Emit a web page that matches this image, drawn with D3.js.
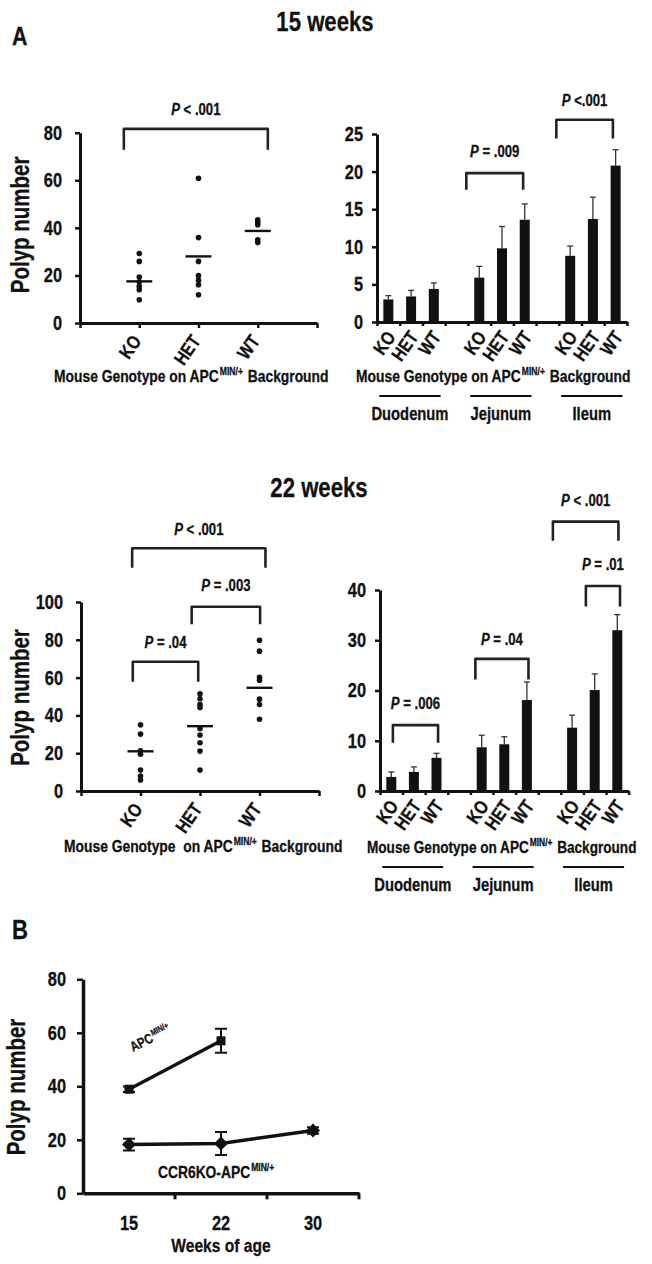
<!DOCTYPE html>
<html><head><meta charset="utf-8">
<script src="https://cdn.jsdelivr.net/npm/d3@7"></script>
<style>body{margin:0;background:#fff}svg{display:block}</style>
</head><body>
<svg id="c" width="652" height="1264"></svg>
<script>
// ---------------- DATA ----------------
const genotypes = ["KO", "HET", "WT"];
const segments = ["Duodenum", "Jejunum", "Ileum"];

// Panel A, 15 weeks — individual mice (polyp number)
const s15KO  = [29.2, 25.9, 19.3, 17.3, 15.4, 14.0, 9.8];
const s15HET = [60.8, 35.9, 25.9, 19.9, 17.9, 16.1, 11.9];
const s15WT  = [43.4, 42.2, 41.3, 35.0, 33.8];
const s15Mean = [17.5, 28.0, 38.7];

// Panel A, 22 weeks — individual mice
const s22KO  = [35.0, 30.1, 21.3, 19.5, 11.1, 7.9, 5.8];
const s22HET = [51.4, 48.8, 45.8, 44.2, 33.1, 29.6, 25.5, 21.1, 11.1];
const s22WT  = [79.8, 74.0, 60.1, 58.6, 48.6, 45.8, 38.0];
const s22Mean = [21.0, 34.3, 54.6];

// Bars by segment (rows: Duodenum, Jejunum, Ileum; cols: KO, HET, WT)
const bar15Mean = [[3.0, 3.4, 4.4], [5.9, 9.8, 13.6], [8.8, 13.7, 20.8]];
const bar15Sem  = [[0.5, 0.8, 0.8], [1.5, 2.9, 2.1], [1.3, 2.9, 2.1]];
const bar22Mean = [[2.8, 3.8, 6.6], [8.7, 9.3, 18.1], [12.6, 20.1, 32.0]];
const bar22Sem  = [[1.0, 1.0, 0.9], [2.4, 1.5, 3.6], [2.5, 3.2, 3.1]];

// Panel B — time course
const weeks = [15, 22, 30];
const apcMean = [38.9, 57.0];
const apcSem  = [1.0, 4.5];
const ccrMean = [18.2, 18.6, 23.5];
const ccrSem  = [2.2, 4.3, 1.2];

// Axis ticks
const ticks15Scatter = [0, 20, 40, 60, 80];
const ticks15Bars = [0, 5, 10, 15, 20, 25];
const ticks22Scatter = [0, 20, 40, 60, 80, 100];
const ticks22Bars = [0, 10, 20, 30, 40];
const ticksB = [0, 20, 40, 60, 80];

// Significance brackets (category units, value units)
const br15Scatter = [{a: 0.74, b: 3.17, top: 81.6, leg: 72.8, txt: 87.6, op: "< ", p: ".001"}];
const br15Bars = [
  {a: 3.43, b: 5.93, top: 19.8, leg: 17.6, txt: 22.0, op: "= ", p: ".009"},
  {a: 7.39, b: 9.88, top: 26.9, leg: 24.4, txt: 28.7, op: "<", p: ".001"}
];
const br22Scatter = [
  {a: 0.86, b: 3.10, top: 128.4, leg: 118.1, txt: 135.4, op: "< ", p: ".001"},
  {a: 1.86, b: 3.01, top: 97.5, leg: 88.2, txt: 106.0, op: "= ", p: ".003"},
  {a: 0.87, b: 1.97, top: 68.4, leg: 57.8, txt: 75.5, op: "= ", p: ".04"}
];
const br22Bars = [
  {a: 0.07, b: 2.07, top: 13.1, leg: 9.6, txt: 16.3, op: "= ", p: ".006"},
  {a: 3.72, b: 6.07, top: 26.3, leg: 22.2, txt: 29.1, op: "= ", p: ".04"},
  {a: 7.15, b: 10.05, top: 53.6, leg: 49.8, txt: 56.7, op: "< ", p: ".001"},
  {a: 8.61, b: 10.12, top: 40.8, leg: 36.7, txt: 44.0, op: "= ", p: ".01"}
];

// ---------------- FONT ----------------
const NARROW = (function () {
  const c = document.createElement("canvas").getContext("2d");
  c.font = "bold 40px monospace";
  const w0 = c.measureText("Mouse Genotype").width;
  c.font = "bold 40px 'Liberation Sans Narrow', monospace";
  const w1 = c.measureText("Mouse Genotype").width;
  return Math.abs(w0 - w1) > 0.5;
})();
const FONT = NARROW ? "'Liberation Sans Narrow', 'Arial Narrow', sans-serif" : "'Liberation Sans', Arial, sans-serif";
function squeeze(t) {
  if (NARROW) return;
  const n = t.node();
  const w = n.getComputedTextLength();
  n.setAttribute("textLength", (w * 0.82).toFixed(2));
  n.setAttribute("lengthAdjust", "spacingAndGlyphs");
}

const svg = d3.select("#c");
const INK = "#111";

function rich(parent, x, y, parts, size, anchor, rot) {
  const t = parent.append("text")
    .attr("transform", `translate(${x},${y})` + (rot ? ` rotate(${rot})` : ""))
    .attr("font-family", FONT).attr("font-weight", "bold")
    .attr("font-size", size).attr("text-anchor", anchor || "start").attr("fill", INK)
    .attr("stroke", INK).attr("stroke-width", 0.3)
    .style("white-space", "pre");
  let shifted = false;
  parts.forEach(p => {
    if (typeof p === "string") p = {t: p};
    const ts = t.append("tspan").text(p.t);
    if (p.it) ts.attr("font-style", "italic");
    if (p.sup) { ts.attr("font-size", size * 0.62).attr("dy", -size * 0.4).attr("dx", 1.2); shifted = true; }
    else if (shifted) { ts.attr("dy", size * 0.4).attr("dx", 1.2); shifted = false; }
  });
  squeeze(t);
  return t;
}

function styleAxis(g, fs, lw) {
  g.select(".domain").attr("stroke", INK).attr("stroke-width", lw || 3);
  g.selectAll(".tick line").attr("stroke", INK).attr("stroke-width", 2.5);
  g.selectAll(".tick text").attr("font-family", FONT).attr("font-weight", "bold")
    .attr("font-size", fs).attr("fill", INK).attr("stroke", INK).attr("stroke-width", 0.3)
    .each(function () { squeeze(d3.select(this)); });
}

function drawBracket(g, x, y, b, fs) {
  const x1 = x(b.a), x2 = x(b.b);
  g.append("path")
    .attr("d", `M${x1},${y(b.leg)}V${y(b.top)}H${x2}V${y(b.leg)}`)
    .attr("fill", "none").attr("stroke", "#222").attr("stroke-width", 2.6)
    .attr("stroke-linejoin", "round");
  rich(g, (x1 + x2) / 2, y(b.txt), [{t: "P", it: true}, " " + b.op + b.p], fs, "middle");
}

function genotypeText(g, x, y, twoSpace, fs) {
  rich(g, x, y, ["Mouse Genotype " + (twoSpace ? " " : "") + "on APC", {t: "MIN/+", sup: true}, " Background"], fs || 17, "start");
}

// ---------------- SCATTER PANEL ----------------
function scatterPanel(o) {
  const g = svg.append("g");
  const x = d3.scaleLinear().domain([0, 4]).range([o.x0, o.x1]);
  const y = d3.scaleLinear().domain([0, o.max]).range([o.base, o.top]);
  const ya = g.append("g").attr("transform", `translate(${o.x0},0)`)
    .call(d3.axisLeft(y).tickValues(o.ticks).tickSize(5).tickSizeOuter(0).tickPadding(13));
  styleAxis(ya, 20);
  const xa = g.append("g").attr("transform", `translate(0,${o.base})`)
    .call(d3.axisBottom(x).tickValues([0, 1, 2, 3, 4]).tickSize(5).tickSizeOuter(0).tickFormat(""));
  styleAxis(xa, 19);
  genotypes.forEach((c, i) => {
    rich(g, x(i + 1) + 3, o.base + 18, [c], 19, "end", -55);
  });
  o.series.forEach((vals, i) => {
    g.selectAll(null).data(vals).enter().append("circle")
      .attr("cx", x(i + 1)).attr("cy", d => y(d)).attr("r", 2.8).attr("fill", INK);
    g.append("line").attr("x1", x(i + 1) - 13).attr("x2", x(i + 1) + 13)
      .attr("y1", y(o.means[i])).attr("y2", y(o.means[i])).attr("stroke", INK).attr("stroke-width", 2.4);
  });
  o.brackets.forEach(b => drawBracket(g, x, y, b, 16));
  rich(g, 29, (o.base + o.top) / 2 + o.titleShift, ["Polyp number"], 25, "middle", -90);
  genotypeText(g, o.gx, o.gy, o.twoSpace);
}

// ---------------- BAR PANEL ----------------
function barPanel(o) {
  const g = svg.append("g");
  const x = d3.scaleLinear().domain([0, 11]).range([o.x0, o.x1]);
  const xc = u => x(u + 0.5);
  const y = d3.scaleLinear().domain([0, o.max]).range([o.base, o.top]);
  const flat = [];
  o.mean.forEach((row, gi) => row.forEach((m, k) => flat.push({slot: gi * 4 + k, m, s: o.sem[gi][k], k})));
  // error bars (upper only)
  flat.forEach(d => {
    const cx = xc(d.slot);
    g.append("line").attr("x1", cx).attr("x2", cx).attr("y1", y(d.m)).attr("y2", y(d.m + d.s))
      .attr("stroke", "#333").attr("stroke-width", 1.3);
    g.append("line").attr("x1", cx - 3).attr("x2", cx + 3).attr("y1", y(d.m + d.s)).attr("y2", y(d.m + d.s))
      .attr("stroke", "#333").attr("stroke-width", 1.3);
  });
  g.selectAll(null).data(flat).enter().append("rect")
    .attr("x", d => xc(d.slot) - 5).attr("width", 10)
    .attr("y", d => y(d.m)).attr("height", d => o.base - y(d.m)).attr("fill", INK);
  const ya = g.append("g").attr("transform", `translate(${o.x0},0)`)
    .call(d3.axisLeft(y).tickValues(o.ticks).tickSize(5).tickSizeOuter(0).tickPadding(9));
  styleAxis(ya, 20);
  const xa = g.append("g").attr("transform", `translate(0,${o.base})`)
    .call(d3.axisBottom(x).tickValues(d3.range(0, 12)).tickSize(4).tickSizeOuter(0).tickFormat(""));
  styleAxis(xa, 19);
  flat.forEach(d => rich(g, xc(d.slot) + 8, o.base + 15, [genotypes[d.k]], 19, "end", -55));
  o.brackets.forEach(b => drawBracket(g, xc, y, b, 16));
  genotypeText(g, o.gx, o.gy, false, o.gfs);
  segments.forEach((s, gi) => {
    const a = x(gi * 4 + 0.1), b = x(gi * 4 + 2.8);
    g.append("line").attr("x1", a).attr("x2", b).attr("y1", o.gy + 14).attr("y2", o.gy + 14)
      .attr("stroke", INK).attr("stroke-width", 2.2);
    rich(g, (a + b) / 2, o.gy + 38, [s], 18, "middle");
  });
}

// ---------------- HEADINGS ----------------
rich(svg, 12, 45, ["A"], 26, "start");
rich(svg, 325, 31, ["15 weeks"], 27, "middle");
rich(svg, 319, 497, ["22 weeks"], 27, "middle");
rich(svg, 12, 939, ["B"], 27, "start");

scatterPanel({x0: 80, x1: 317, base: 323, top: 132.7, max: 80, ticks: ticks15Scatter,
  series: [s15KO, s15HET, s15WT], means: s15Mean, brackets: br15Scatter,
  titleShift: -3, gx: 54, gy: 382, twoSpace: false});
barPanel({x0: 377, x1: 627, base: 322, top: 134, max: 25, ticks: ticks15Bars,
  mean: bar15Mean, sem: bar15Sem, brackets: br15Bars, gx: 356, gy: 382, gfs: 17});
scatterPanel({x0: 81, x1: 319, base: 791, top: 602, max: 100, ticks: ticks22Scatter,
  series: [s22KO, s22HET, s22WT], means: s22Mean, brackets: br22Scatter,
  titleShift: 1, gx: 64, gy: 852, twoSpace: true});
barPanel({x0: 380, x1: 628.6, base: 791, top: 590, max: 40, ticks: ticks22Bars,
  mean: bar22Mean, sem: bar22Sem, brackets: br22Bars, gx: 367, gy: 853, gfs: 16.7});

// ---------------- PANEL B ----------------
(function () {
  const g = svg.append("g");
  const x0 = 83, x1 = 359, base = 1193.3, top = 979.3;
  const x = d3.scaleBand().domain(weeks).range([x0, x1]);
  const xc = w => x(w) + x.bandwidth() / 2;
  const y = d3.scaleLinear().domain([0, 80]).range([base, top]);
  const ya = g.append("g").attr("transform", `translate(${x0},0)`)
    .call(d3.axisLeft(y).tickValues(ticksB).tickSize(6).tickSizeOuter(0).tickPadding(11));
  styleAxis(ya, 20, 3.5);
  const xa = g.append("g").attr("transform", `translate(0,${base})`)
    .call(d3.axisBottom(x).tickSize(0).tickSizeOuter(0).tickPadding(23));
  styleAxis(xa, 20, 3.5);
  weeks.forEach(w => g.append("line").attr("x1", x(w) + x.bandwidth()).attr("x2", x(w) + x.bandwidth())
    .attr("y1", base).attr("y2", base + 6).attr("stroke", INK).attr("stroke-width", 3));
  const apc = apcMean.map((m, i) => ({w: weeks[i], m, s: apcSem[i]}));
  const ccr = ccrMean.map((m, i) => ({w: weeks[i], m, s: ccrSem[i]}));
  const line = d3.line().x(d => xc(d.w)).y(d => y(d.m));
  [apc, ccr].forEach(series => {
    series.forEach(d => {
      const cx = xc(d.w);
      g.append("path").attr("d", `M${cx - 6},${y(d.m + d.s)}H${cx + 6}M${cx},${y(d.m + d.s)}V${y(d.m - d.s)}M${cx - 6},${y(d.m - d.s)}H${cx + 6}`)
        .attr("stroke", INK).attr("stroke-width", 2).attr("fill", "none");
    });
    g.append("path").datum(series).attr("d", line).attr("fill", "none")
      .attr("stroke", INK).attr("stroke-width", 3.5);
  });
  g.selectAll(null).data(apc).enter().append("rect")
    .attr("x", d => xc(d.w) - 4.5).attr("y", d => y(d.m) - 4.5).attr("width", 9).attr("height", 9).attr("fill", INK);
  g.selectAll(null).data(ccr).enter().append("path")
    .attr("d", d => { const cx = xc(d.w), cy = y(d.m); return `M${cx},${cy - 7}L${cx + 7},${cy}L${cx},${cy + 7}L${cx - 7},${cy}Z`; })
    .attr("fill", INK);
  rich(g, xc(15) + 4, y(52.8), ["APC", {t: "MIN/+", sup: true}], 14, "start", -27);
  rich(g, xc(15) + 29, y(5.7), ["CCR6KO-APC", {t: "MIN/+", sup: true}], 17, "start");
  rich(g, 25, 1087, ["Polyp number"], 25, "middle", -90);
  rich(g, (x0 + x1) / 2, 1252, ["Weeks of age"], 19, "middle");
})();
</script>
</body></html>
